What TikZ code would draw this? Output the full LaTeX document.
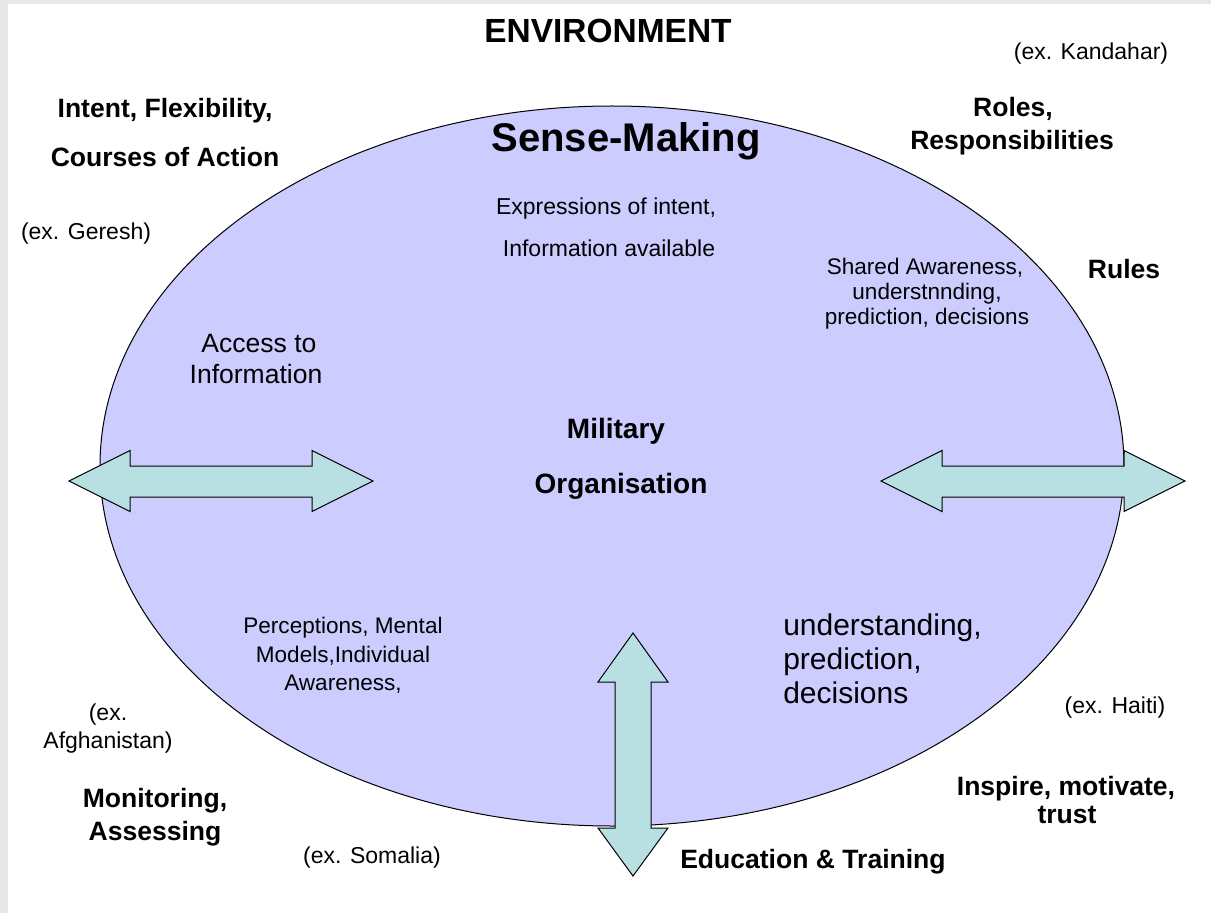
\documentclass[tikz,border=0pt]{standalone}
\usepackage{fontspec}
\setmainfont{Liberation Sans}
\usetikzlibrary{shapes.geometric}
\definecolor{lav}{RGB}{204,204,255}
\definecolor{tealfill}{RGB}{184,224,226}
\definecolor{framegray}{RGB}{232,232,232}
\begin{document}
\begin{tikzpicture}[x=0.75pt,y=-0.75pt,
  lbl/.style={inner sep=0pt, anchor=base},
  bhead/.style={lbl, font=\fontsize{19.9pt}{24pt}\selectfont\bfseries},
  exlbl/.style={lbl, font=\fontsize{17.25pt}{20pt}\selectfont},
  small/.style={lbl, font=\fontsize{16.9pt}{20pt}\selectfont},
  arrowshape/.style={draw=black, line width=0.75pt, fill=tealfill, line join=miter}]
\useasboundingbox (0,0) rectangle (1211,913);
\fill[framegray] (0,0) rectangle (1211,913);
\fill[white] (8,4) rectangle (1211,913);

% organisation ellipse
\node[ellipse, draw=black, line width=0.75pt, fill=lav, minimum width=768pt, minimum height=540pt, inner sep=0pt] (org) at (612,466) {};

% double arrows
\draw[arrowshape] (69,481) -- (130,450.5) -- (130,466) -- (312,466) -- (312,450.5) -- (373,481) -- (312,511.5) -- (312,497) -- (130,497) -- (130,511.5) -- cycle;
\draw[arrowshape] (881,481) -- (942,450.5) -- (942,466) -- (1124,466) -- (1124,450.5) -- (1185,481) -- (1124,511.5) -- (1124,497) -- (942,497) -- (942,511.5) -- cycle;
\draw[arrowshape] (633,633) -- (668,682) -- (651,682) -- (651,828) -- (668,828) -- (633,876) -- (598,828) -- (615,828) -- (615,682) -- (598,682) -- cycle;

% texts
\node[lbl, font=\fontsize{25.1pt}{30pt}\selectfont\bfseries] (env) at (608,43) {ENVIRONMENT};
\node[exlbl] (kand) at (1091,60) {(ex. Kandahar)};
\node[bhead] (intent1) at (165,118) {Intent, Flexibility,};
\node[bhead] (intent2) at (165,167) {Courses of Action};
\node[lbl, font=\fontsize{30pt}{36pt}\selectfont\bfseries] (sense) at (626,152) {Sense-Making};
\node[bhead] (roles1) at (1013,117) {Roles,};
\node[bhead] (roles2) at (1012,150) {Responsibilities};
\node[exlbl] (geresh) at (86,240) {(ex. Geresh)};
\node[exlbl] (expr1) at (606,215) {Expressions of intent,};
\node[exlbl] (expr2) at (609,257) {Information available};
\node[small] (shared1) at (925,275) {Shared Awareness,};
\node[small] (shared2) at (927,300) {understnnding,};
\node[small] (shared3) at (927,325) {prediction, decisions};
\node[bhead] (rules) at (1124,278) {Rules};
\node[lbl, font=\fontsize{19.9pt}{24pt}\selectfont] (access1) at (259,352) {Access to};
\node[lbl, font=\fontsize{19.9pt}{24pt}\selectfont] (access2) at (256,383) {Information};
\node[lbl, font=\fontsize{21pt}{25pt}\selectfont\bfseries] (mil1) at (616,438) {Military};
\node[lbl, font=\fontsize{21pt}{25pt}\selectfont\bfseries] (mil2) at (621,493) {Organisation};
\node[small] (perc1) at (343,633) {Perceptions, Mental};
\node[small] (perc2) at (343,662) {Models,Individual};
\node[small] (perc3) at (343,690) {Awareness,};
\node[lbl, anchor=base west, font=\fontsize{22.5pt}{26pt}\selectfont] (und1) at (783,635) {understanding,};
\node[lbl, anchor=base west, font=\fontsize{22.5pt}{26pt}\selectfont] (und2) at (783,669) {prediction,};
\node[lbl, anchor=base west, font=\fontsize{22.5pt}{26pt}\selectfont] (und3) at (783,703) {decisions};
\node[exlbl] (haiti) at (1115,713) {(ex. Haiti)};
\node[exlbl] (afg1) at (108,720) {(ex.};
\node[exlbl] (afg2) at (108,748) {Afghanistan)};
\node[bhead] (mon1) at (155,807) {Monitoring,};
\node[bhead] (mon2) at (155,840) {Assessing};
\node[exlbl] (somalia) at (372,863) {(ex. Somalia)};
\node[bhead] (insp1) at (1066,795) {Inspire, motivate,};
\node[bhead] (insp2) at (1067,823) {trust};
\node[bhead, anchor=base west] (edu) at (680,868) {Education \& Training};
\end{tikzpicture}
\end{document}
